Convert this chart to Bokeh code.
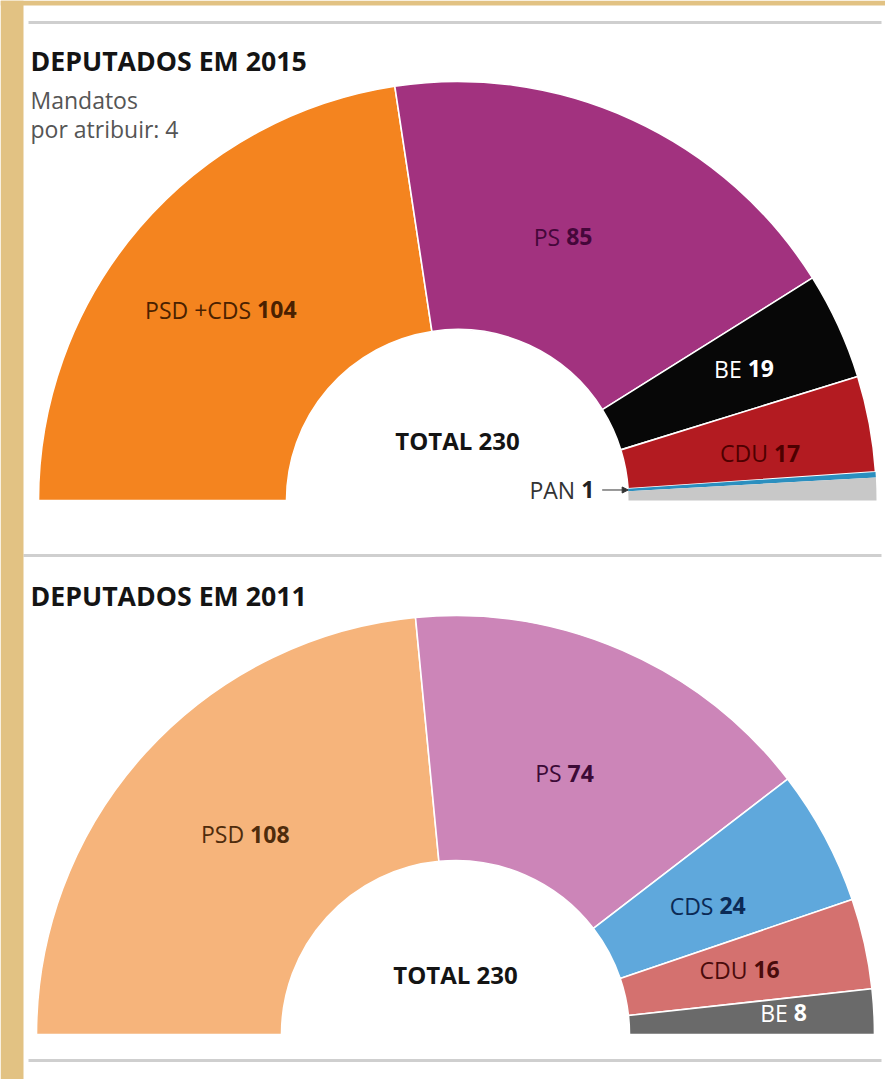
import numpy as np
from bokeh.plotting import figure
from bokeh.models import ColumnDataSource, Range1d, Arrow, NormalHead, BoxAnnotation
from bokeh.core.properties import value
from bokeh.embed import file_html
from bokeh.resources import INLINE

# ---------------- data ----------------
TOTAL_SEATS = 230
parties_2015 = ["PSD +CDS", "PS", "BE", "CDU", "PAN", "Por atribuir"]
seats_2015 = [104, 85, 19, 17, 1, 4]
parties_2011 = ["PSD", "PS", "CDS", "CDU", "BE"]
seats_2011 = [108, 74, 24, 16, 8]
title_2015 = "DEPUTADOS EM 2015"
title_2011 = "DEPUTADOS EM 2011"
subtitle_2015 = ["Mandatos", "por atribuir: 4"]

# ---------------- styles ----------------
colors_2015 = ["#F4841F", "#A2327F", "#070707", "#B31B21", "#2B8FBF", "#C8C8C8"]
colors_2011 = ["#F6B47B", "#CC85B8", "#5FA8DC", "#D4716F", "#6A6A6A"]
text_col_2015 = ["#4a2100", "#45073a", "#ffffff", "#4e0000", "#333333", None]
text_col_2011 = ["#4f2c0c", "#3c0a36", "#0b2a55", "#4a0b0b", "#ffffff"]
outline_2015 = [1, 1, 1, 1, 0, 0]
outline_2011 = [1, 1, 1, 1, 1]
# label placement: radius from centre and angular nudge (deg)
lab_r_2015 = [279, 284, 316, 317, None, None]
lab_da_2015 = [-2.5, 2.8, 0.0, -2.0, None, None]
lab_r_2011 = [289, 283, 291, 302, 336]
lab_da_2011 = [-1.6, 0.8, -1.9, -0.1, 0.6]

FONT = "Open Sans"
W, H = 885, 1079
PAGE_H = 1079


def Y(page_y):
    return PAGE_H - page_y


p = figure(width=W, height=H, output_backend="svg", toolbar_location=None,
           x_range=Range1d(0, W), y_range=Range1d(PAGE_H - H, PAGE_H),
           min_border=0, outline_line_color=None, background_fill_color="white",
           border_fill_color="white")
p.axis.visible = False
p.grid.visible = False

# beige textured border on the left and top
p.add_layout(BoxAnnotation(right=23, fill_color="#E2C283", fill_alpha=1.0, line_alpha=0))
p.add_layout(BoxAnnotation(bottom=Y(5), fill_color="#E2C283", fill_alpha=1.0, line_alpha=0))

# grey rules
for (x0, ypg) in [(28, 22), (23, 555), (28, 1060)]:
    p.segment(x0=[x0], y0=[Y(ypg)], x1=[881], y1=[Y(ypg)], line_color="#cfcfcf", line_width=3)


def half_donut(parties, seats, colors, outl, cx, cy, r_in, r_out, tcols, lab_r, lab_da):
    seats = np.array(seats, dtype=float)
    cum = np.concatenate([[0], np.cumsum(seats)])
    a_start = np.pi - cum[:-1] / TOTAL_SEATS * np.pi
    a_end = np.pi - cum[1:] / TOTAL_SEATS * np.pi
    src = ColumnDataSource(dict(start=a_end, end=a_start, color=colors,
                                la=[float(v) for v in outl]))
    p.annular_wedge(x=cx, y=cy, inner_radius=r_in, outer_radius=r_out,
                    start_angle="start", end_angle="end", source=src,
                    fill_color="color", line_color="white", line_width=1.6,
                    line_alpha="la")
    mids = (a_start + a_end) / 2
    nx, ny, nn, vv, cc = [], [], [], [], []
    for i, name in enumerate(parties):
        if lab_r[i] is None:
            continue
        ang = mids[i] + np.deg2rad(lab_da[i])
        nx.append(cx + lab_r[i] * np.cos(ang))
        ny.append(cy + lab_r[i] * np.sin(ang))
        nn.append(name)
        vv.append(str(int(seats[i])))
        cc.append(tcols[i])
    ls = ColumnDataSource(dict(x=[v - 3 for v in nx], x2=[v + 3 for v in nx], y=ny,
                               name=nn, val=vv, col=cc))
    p.text(x="x", y="y", text="name", source=ls, text_align="right",
           text_baseline="middle", text_color="col", text_font=value(FONT),
           text_font_size="23px")
    p.text(x="x2", y="y", text="val", source=ls, text_align="left",
           text_baseline="middle", text_color="col", text_font=value(FONT),
           text_font_size="23px", text_font_style="bold")
    p.text(x=[cx], y=[cy + 60], text=[f"TOTAL {TOTAL_SEATS}"], text_align="center",
           text_baseline="middle", text_color="#141414", text_font=value(FONT),
           text_font_size="24px", text_font_style="bold")
    return a_start, a_end


# ---- 2015 ----
cx15, cy15 = 457, Y(500)
a_s15, a_e15 = half_donut(parties_2015, seats_2015, colors_2015, outline_2015,
                          cx15, cy15, 171, 419, text_col_2015, lab_r_2015, lab_da_2015)
# PAN pointer
i_pan = parties_2015.index("PAN")
pan_mid = (a_s15[i_pan] + a_e15[i_pan]) / 2
ax_end = cx15 + 171 * np.cos(pan_mid)
ay_end = cy15 + 171 * np.sin(pan_mid)
p.add_layout(Arrow(end=NormalHead(size=6, fill_color="#333333", line_color="#333333"),
                   x_start=ax_end - 26, y_start=ay_end, x_end=ax_end, y_end=ay_end,
                   line_color="#333333", line_width=1))
p.text(x=[ax_end - 53], y=[ay_end], text=["PAN"], text_align="right",
       text_baseline="middle", text_color="#333333", text_font=value(FONT),
       text_font_size="23px")
p.text(x=[ax_end - 47], y=[ay_end], text=[str(seats_2015[i_pan])], text_align="left",
       text_baseline="middle", text_color="#222222", text_font=value(FONT),
       text_font_size="23px", text_font_style="bold")

p.text(x=[30], y=[Y(60)], text=[title_2015], text_align="left", text_baseline="alphabetic",
       text_color="#141414", text_font=value(FONT), text_font_size="26.7px",
       text_font_style="bold")
p.text(x=[30, 30], y=[Y(99), Y(128)], text=subtitle_2015, text_align="left",
       text_baseline="alphabetic", text_color="#555555", text_font=value(FONT),
       text_font_size="23px")

# ---- 2011 ----
cx11, cy11 = 455, Y(1034)
half_donut(parties_2011, seats_2011, colors_2011, outline_2011,
           cx11, cy11, 174, 419, text_col_2011, lab_r_2011, lab_da_2011)
p.text(x=[30], y=[Y(595)], text=[title_2011], text_align="left", text_baseline="alphabetic",
       text_color="#141414", text_font=value(FONT), text_font_size="26.7px",
       text_font_style="bold")

open("out.html", "w").write(file_html(p, INLINE))
